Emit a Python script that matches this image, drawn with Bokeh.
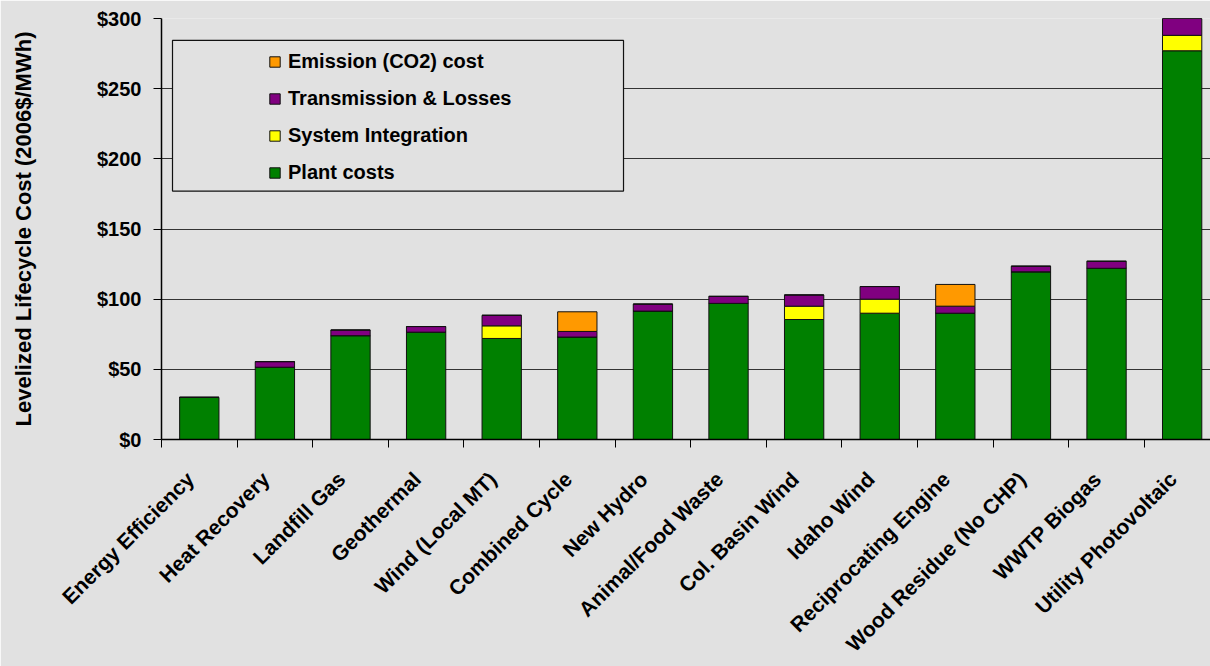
from bokeh.plotting import figure
from bokeh.models import (Range1d, FixedTicker, Legend, LegendItem, BoxAnnotation,
                          NumeralTickFormatter, ColumnDataSource)
from bokeh.embed import file_html
from bokeh.resources import INLINE
import math

# Levelized lifecycle cost by resource (2006 $/MWh)
resources = [
    "Energy Efficiency", "Heat Recovery", "Landfill Gas", "Geothermal",
    "Wind (Local MT)", "Combined Cycle", "New Hydro", "Animal/Food Waste",
    "Col. Basin Wind", "Idaho Wind", "Reciprocating Engine",
    "Wood Residue (No CHP)", "WWTP Biogas", "Utility Photovoltaic",
]
plant_costs = [30, 51.5, 74, 76.5, 72, 73, 91.5, 97, 85.5, 90, 90, 119.5, 122, 277]
system_integration = [0, 0, 0, 0, 9, 0, 0, 0, 9.5, 10, 0, 0, 0, 11]
transmission_losses = [0, 4, 4, 4, 7.5, 4, 5, 5, 8, 9, 5, 4, 5, 12]
emission_cost = [0, 0, 0, 0, 0, 14, 0, 0, 0, 0, 15.5, 0, 0, 0]

y_ticks = [0, 50, 100, 150, 200, 250, 300]

series = ["plant", "integration", "transmission", "emission"]
labels = ["Plant costs", "System Integration", "Transmission & Losses", "Emission (CO2) cost"]
colors = ["#008000", "#ffff00", "#800080", "#ff9900"]

FONT = "Liberation Sans"
BG = "#e1e1e1"

centers = [i + 0.5 for i in range(len(resources))]
# rotated names end a little left of the bar centre
label_pos = [c - 0.12 for c in centers]

src = ColumnDataSource(dict(
    x=centers,
    plant=plant_costs,
    integration=system_integration,
    transmission=transmission_losses,
    emission=emission_cost,
))

p = figure(
    width=1210, height=666,
    x_range=Range1d(0, 13.875), y_range=Range1d(0, 300),
    output_backend="svg", toolbar_location=None,
    min_border_left=161, min_border_right=0, min_border_top=18, min_border_bottom=226,
    background_fill_color=BG, border_fill_color=BG,
)
p.outline_line_color = None

renderers = p.vbar_stack(series, x="x", width=0.52, source=src,
                         fill_color=colors, line_color="#111111", line_width=1)

# Axes
p.xgrid.grid_line_color = None
p.ygrid.ticker = FixedTicker(ticks=y_ticks)
p.ygrid.grid_line_color = "#333333"
p.ygrid.grid_line_width = 1

p.yaxis.ticker = FixedTicker(ticks=y_ticks)
p.yaxis.formatter = NumeralTickFormatter(format="$0")
p.yaxis.major_tick_in = 0
p.yaxis.major_tick_out = 8
p.yaxis.minor_tick_line_color = None
p.yaxis.axis_line_width = 1.5
p.yaxis.major_label_text_font = FONT
p.yaxis.major_label_text_font_style = "bold"
p.yaxis.major_label_text_font_size = "20px"
p.yaxis.major_label_text_color = "#000000"
p.yaxis.major_label_standoff = 12
p.yaxis.axis_label = "Levelized Lifecycle Cost (2006$/MWh)"
p.yaxis.axis_label_text_font = FONT
p.yaxis.axis_label_text_font_style = "bold"
p.yaxis.axis_label_text_font_size = "22px"
p.yaxis.axis_label_text_color = "#000000"
p.yaxis.axis_label_standoff = 58

# category names as rotated labels; separators as outward ticks
p.xaxis.ticker = FixedTicker(ticks=label_pos, minor_ticks=list(range(len(resources) + 1)))
p.xaxis.major_label_overrides = {c: name for c, name in zip(label_pos, resources)}
p.xaxis.major_tick_line_color = None
p.xaxis.major_tick_in = 0
p.xaxis.major_tick_out = 0
p.xaxis.minor_tick_in = 0
p.xaxis.minor_tick_out = 8
p.xaxis.minor_tick_line_color = "#000000"
p.xaxis.axis_line_width = 1.5
p.xaxis.major_label_orientation = math.pi / 4
p.xaxis.major_label_text_font = FONT
p.xaxis.major_label_text_font_style = "bold"
p.xaxis.major_label_text_font_size = "21px"
p.xaxis.major_label_text_color = "#000000"
p.xaxis.major_label_standoff = 28

# Legend frame
p.add_layout(BoxAnnotation(left=0.1455, right=6.111, bottom=177.0, top=284.4,
                           fill_color=BG, fill_alpha=1.0,
                           line_color="#111111", line_alpha=1.0, line_width=1.2,
                           level="annotation"))

items = [LegendItem(label=lab, renderers=[r]) for lab, r in zip(labels, renderers)][::-1]
legend = Legend(items=items, location=(107, 255), padding=0, margin=0,
                glyph_width=13, glyph_height=13, label_height=23, spacing=14,
                label_standoff=7,
                label_text_font=FONT, label_text_font_style="bold",
                label_text_font_size="20px", label_text_color="#000000",
                background_fill_alpha=0, border_line_alpha=0)
p.add_layout(legend)

open("out.html", "w").write(file_html(p, INLINE))
